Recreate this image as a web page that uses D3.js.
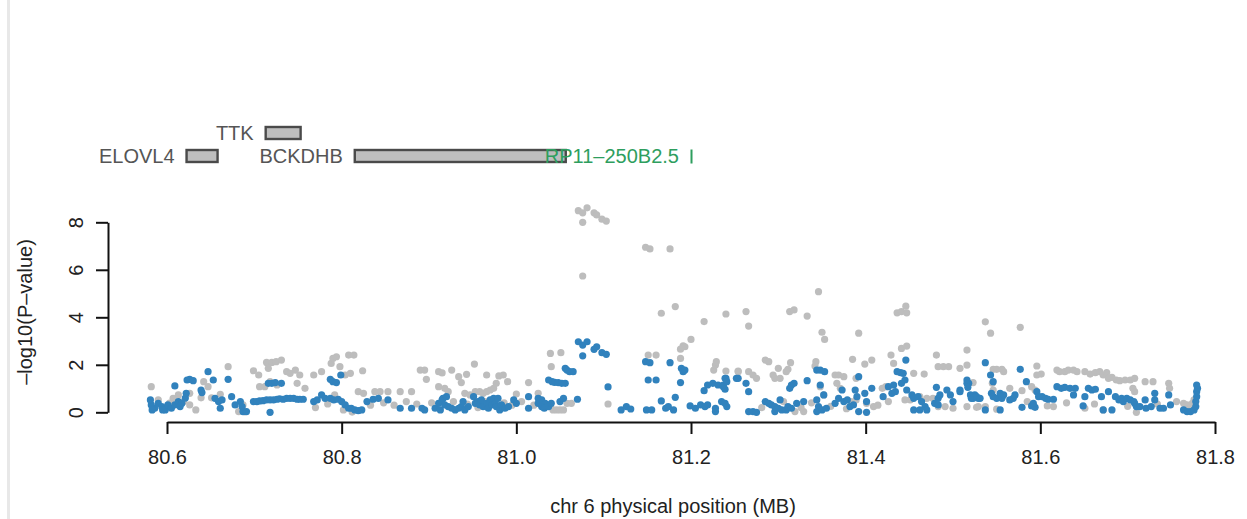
<!DOCTYPE html>
<html>
<head>
<meta charset="utf-8">
<script src="https://cdn.jsdelivr.net/npm/d3@7"></script>
<style>
  body { margin: 0; background: #fff; }
  svg text { font-family: "Liberation Sans", Arial, Helvetica, sans-serif; }
</style>
</head>
<body>
<script>

// axis ticks
const xTicks = [80.6, 80.8, 81.0, 81.2, 81.4, 81.6, 81.8];
const yTicks = [0, 2, 4, 6, 8];

// genes in the region (MB)
const geneNames = ['ELOVL4', 'TTK', 'BCKDHB', 'RP11–250B2.5'];
const geneStart = [80.6224, 80.713, 80.815, 81.200];
const geneEnd   = [80.6579, 80.753, 81.0566, 81.2005];
const geneRow   = [0, 1, 0, 0];
const geneType  = ['coding', 'coding', 'coding', 'lincRNA'];

// [position MB, -log10 p] : grey = all SNPs, blue = conditioned
const greySnps = [
  [80.582,1.08],[80.670,1.92],[80.642,1.29],[80.647,1.08],[80.639,0.61],[80.619,0.45],[80.607,0.59],[80.613,0.73],
  [80.626,0.80],[80.661,0.76],[80.651,0.61],[80.687,0.31],[80.682,0.03],[80.689,0.02],[80.699,1.75],[80.705,1.57],
  [80.706,1.08],[80.714,2.10],[80.720,2.10],[80.725,2.13],[80.731,2.20],[80.716,1.85],[80.712,1.08],[80.718,1.29],
  [80.726,1.15],[80.737,1.71],[80.741,1.64],[80.747,1.78],[80.752,1.57],[80.758,1.01],[80.749,1.22],[80.590,0.52],
  [80.598,0.18],[80.603,0.39],[80.626,0.31],[80.633,0.10],
  [80.768,1.57],[80.777,1.71],[80.788,2.06],[80.790,2.27],[80.794,2.34],[80.798,1.92],[80.808,2.41],[80.814,2.41],
  [80.804,1.57],[80.810,1.64],[80.824,1.75],[80.819,0.87],[80.825,0.80],[80.838,0.87],[80.844,0.87],[80.853,0.87],
  [80.867,0.87],[80.880,0.87],[80.890,1.78],[80.895,1.78],[80.911,1.71],[80.792,0.73],[80.802,0.10],[80.812,0.01],
  [80.897,1.39],[80.915,1.66],[80.926,1.78],[80.911,1.08],[80.918,1.01],[80.922,0.87],[80.934,1.50],[80.937,1.25],
  [80.943,1.60],[80.952,2.03],[80.941,0.80],[80.947,0.73],[80.953,0.87],[80.958,0.87],[80.962,0.80],[80.966,0.87],
  [80.970,0.94],[80.974,1.01],[80.977,1.22],[80.980,1.53],[80.985,1.57],[80.990,1.29],[80.966,1.57],[81.000,0.77],
  [81.014,1.25],[81.025,0.80],[81.040,1.92],[81.039,2.48],[81.051,2.51],[81.039,0.24],[81.042,0.10],[81.046,0.10],
  [81.050,0.10],[81.054,0.10],[81.058,0.38],[81.063,0.38],[81.105,0.35],
  [80.770,0.20],[80.784,0.35],[80.833,0.30],[80.848,0.40],[80.860,0.30],[80.874,0.45],[80.886,0.35],[80.903,0.40],
  [80.928,0.45],[80.944,0.35],[80.956,0.20],[80.964,0.45],[80.986,0.40],[80.995,0.30],[81.006,0.45],[81.020,0.30],
  [81.071,8.49],[81.076,8.40],[81.081,8.61],[81.089,8.40],[81.092,8.31],[81.098,8.13],[81.103,8.05],[81.076,8.00],
  [81.076,5.74],[81.148,6.95],[81.153,6.88],[81.176,6.88],[81.166,4.17],[81.182,4.45],[81.215,3.82],[81.240,4.14],
  [81.200,3.07],[81.191,2.80],[81.193,2.76],[81.188,2.66],[81.188,2.27],[81.151,2.41],[81.160,2.41],[81.226,1.78],
  [81.228,1.99],[81.229,2.13],[81.254,1.71],
  [81.263,4.24],[81.266,3.63],[81.313,4.24],[81.318,4.31],[81.333,4.05],[81.346,5.08],[81.350,3.37],[81.353,3.07],
  [81.392,3.33],[81.436,4.19],[81.441,4.24],[81.446,4.47],[81.447,4.19],[81.441,2.69],[81.447,2.79],[81.429,2.41],
  [81.432,2.06],[81.285,2.20],[81.289,2.13],[81.314,2.09],[81.311,1.81],[81.309,1.71],[81.300,1.85],[81.343,2.13],
  [81.342,1.95],[81.385,2.23],[81.399,2.03],[81.407,2.20],[81.481,2.41],[81.516,2.62],[81.516,1.99],[81.508,1.85],
  [81.483,1.92],[81.489,1.92],[81.495,1.92],[81.240,1.74],[81.254,1.74],[81.266,1.71],[81.271,1.57],[81.275,1.43],
  [81.294,1.57],[81.296,1.43],[81.302,1.43],[81.365,1.57],[81.369,1.57],[81.375,1.50],[81.367,1.22],[81.371,1.01],
  [81.389,1.43],[81.423,1.08],[81.419,1.01],[81.455,1.64],[81.467,1.61],[81.445,0.52],[81.451,0.52],[81.462,0.66],
  [81.470,0.59],[81.477,0.59],[81.483,0.24],[81.491,0.24],[81.500,0.17],[81.516,0.24],[81.529,0.24],[81.319,0.03],
  [81.329,0.03],[81.348,1.08],[81.352,0.73],[81.401,0.38],[81.409,0.24],[81.389,0.52],[81.383,0.45],
  [81.281,0.20],[81.306,0.45],[81.326,0.20],[81.338,0.40],[81.360,0.25],[81.378,0.15],[81.414,0.30],[81.426,0.45],
  [81.537,3.81],[81.543,3.33],[81.577,3.58],[81.546,1.81],[81.550,1.81],[81.556,1.81],[81.558,1.71],[81.545,1.22],
  [81.546,0.94],[81.523,1.25],[81.527,0.21],[81.537,0.24],[81.550,0.13],[81.565,1.01],[81.579,0.91],[81.596,1.95],
  [81.601,1.61],[81.596,1.57],[81.590,1.08],[81.594,0.94],[81.608,0.27],[81.615,0.24],[81.619,1.78],[81.622,1.71],
  [81.628,1.71],[81.632,1.78],[81.638,1.78],[81.642,1.71],[81.651,1.71],[81.657,1.61],[81.663,1.67],[81.668,1.71],
  [81.672,1.57],[81.676,1.67],[81.678,1.43],[81.682,1.47],[81.687,1.36],[81.691,1.33],[81.697,1.36],[81.703,1.36],
  [81.708,1.43],[81.720,1.29],[81.729,1.29],[81.747,1.22],[81.748,1.01],[81.706,1.01],[81.708,0.87],[81.710,0.00],
  [81.764,0.38],[81.768,0.31],[81.772,0.27],[81.774,0.38],[81.776,0.52],[81.672,0.10],[81.651,0.17],
  [81.585,0.45],[81.630,0.40],[81.662,0.35],[81.700,0.25],[81.734,0.35],[81.756,0.45]
];

const blueSnps = [
  [80.582,0.31],[80.586,0.17],[80.590,0.38],[80.594,0.24],[80.598,0.10],[80.601,0.31],[80.605,0.17],[80.609,0.31],
  [80.613,0.45],[80.615,0.24],[80.617,0.38],[80.581,0.52],[80.583,0.10],[80.595,0.10],[80.621,0.60],[80.609,1.11],
  [80.623,1.36],[80.626,1.39],[80.630,1.33],[80.647,1.71],[80.639,0.94],[80.640,0.83],[80.653,1.36],[80.670,1.39],
  [80.622,0.80],[80.655,0.59],[80.659,0.45],[80.663,0.52],[80.661,0.17],[80.674,0.66],[80.678,0.31],[80.684,0.45],
  [80.686,0.24],[80.687,0.03],[80.691,0.03],[80.699,0.45],[80.703,0.45],[80.706,0.48],[80.710,0.49],[80.714,0.52],
  [80.718,0.52],[80.722,0.52],[80.726,0.55],[80.729,0.57],[80.733,0.55],[80.737,0.59],[80.741,0.59],[80.745,0.59],
  [80.749,0.55],[80.752,0.55],[80.756,0.55],[80.716,1.22],[80.720,1.22],[80.724,1.25],[80.731,1.22],[80.718,0.00],
  [80.768,0.45],[80.772,0.52],[80.777,0.73],[80.781,0.59],[80.787,0.59],[80.791,0.52],[80.796,0.55],[80.800,0.45],
  [80.804,0.31],[80.808,0.17],[80.811,0.17],[80.815,0.10],[80.819,0.07],[80.823,0.10],[80.829,0.45],[80.836,0.55],
  [80.842,0.59],[80.853,0.52],[80.867,0.17],[80.880,0.17],[80.892,0.17],[80.895,0.10],[80.907,0.17],[80.787,1.39],
  [80.790,1.29],[80.794,1.25],[80.799,1.57],
  [80.911,0.38],[80.913,0.10],[80.915,0.52],[80.916,0.59],[80.920,0.66],[80.918,0.31],[80.922,0.24],[80.926,0.17],
  [80.930,0.10],[80.934,0.17],[80.937,0.24],[80.939,0.45],[80.941,0.10],[80.945,0.24],[80.951,0.66],[80.953,0.38],
  [80.956,0.45],[80.958,0.31],[80.960,0.52],[80.962,0.24],[80.966,0.38],[80.968,0.17],[80.970,0.52],[80.972,0.31],
  [80.974,0.59],[80.976,0.38],[80.977,0.24],[80.979,0.59],[80.981,0.10],[80.983,0.31],[80.987,0.17],[80.991,0.24],
  [80.997,0.52],[81.000,0.38],[81.014,0.66],[81.014,0.17],[81.025,0.59],[81.025,0.38],[81.029,0.52],[81.033,0.38],
  [81.029,0.24],[81.032,0.17],[81.037,0.24],[81.040,0.38],[81.050,0.45],[81.054,0.59],[81.070,0.55],
  [81.037,1.36],[81.041,1.29],[81.044,1.26],[81.048,1.25],[81.052,1.22],[81.056,1.22],
  [81.056,1.85],[81.058,1.78],[81.061,1.71],[81.065,1.71],
  [81.071,2.97],[81.076,2.83],[81.081,2.97],[81.076,2.38],[81.089,2.65],[81.092,2.76],[81.098,2.51],[81.103,2.44],
  [81.105,1.07],[81.120,0.10],[81.126,0.24],[81.131,0.14],[81.149,0.10],[81.155,0.10],[81.148,2.13],[81.153,2.09],
  [81.151,1.36],[81.160,1.36],[81.176,2.09],[81.166,0.48],[81.171,0.17],[81.174,0.24],[81.180,0.10],[81.182,0.63],
  [81.188,1.25],[81.189,1.85],[81.191,1.71],[81.193,1.78],[81.199,0.27],[81.205,0.17],[81.211,0.31],[81.216,0.24],
  [81.219,0.31],[81.228,0.03],[81.228,0.17],[81.215,0.91],[81.219,1.15],[81.225,1.22],[81.231,1.15],[81.237,1.08],
  [81.239,0.97],[81.240,1.43],[81.252,1.43],[81.235,0.45],[81.241,0.24],
  [81.239,1.43],[81.237,1.15],[81.241,1.29],[81.239,0.38],[81.254,1.43],[81.263,1.22],[81.266,0.87],[81.266,0.03],
  [81.271,0.03],[81.275,0.00],[81.285,0.45],[81.289,0.38],[81.292,0.31],[81.296,0.24],[81.300,0.17],[81.302,0.52],
  [81.296,0.03],[81.304,0.10],[81.309,0.10],[81.311,0.24],[81.315,0.17],[81.313,1.01],[81.315,1.15],[81.318,1.22],
  [81.321,0.38],[81.329,0.45],[81.333,1.33],[81.344,1.78],[81.348,1.78],[81.353,1.71],[81.348,1.15],[81.352,0.73],
  [81.344,0.52],[81.346,0.24],[81.344,0.03],[81.350,0.10],[81.355,0.17],[81.365,0.38],[81.369,0.59],[81.373,0.94],
  [81.375,0.45],[81.379,0.52],[81.382,0.24],[81.386,0.31],[81.388,0.94],[81.390,0.66],[81.392,1.50],[81.392,0.03],
  [81.399,0.80],[81.401,0.45],[81.407,1.01],[81.401,0.00],[81.420,0.66],[81.426,1.08],[81.430,0.80],[81.434,0.87],
  [81.432,1.15],[81.436,1.71],[81.440,1.67],[81.443,1.64],[81.446,2.20],[81.445,1.36],[81.441,1.22],[81.447,0.94],
  [81.453,0.73],[81.455,0.59],[81.460,0.66],[81.464,0.45],[81.468,0.24],[81.455,0.10],[81.462,0.10],[81.470,0.10],
  [81.481,1.05],[81.483,0.59],[81.485,0.73],[81.493,0.94],[81.497,0.73],[81.500,0.45],[81.508,0.87],[81.516,1.36],
  [81.518,1.22],[81.521,0.59],[81.525,0.73],[81.529,0.59],[81.479,0.38],[81.483,0.31],
  [81.516,1.22],[81.517,1.05],[81.508,0.94],[81.520,0.73],[81.523,0.59],[81.527,0.66],[81.531,0.59],[81.537,2.09],
  [81.543,1.57],[81.546,1.29],[81.544,0.80],[81.546,0.66],[81.550,0.59],[81.554,0.80],[81.556,0.59],[81.558,0.73],
  [81.537,0.10],[81.554,0.10],[81.565,0.52],[81.569,0.59],[81.571,0.73],[81.577,1.81],[81.579,0.21],[81.584,1.29],
  [81.590,0.27],[81.594,0.21],[81.592,0.38],[81.596,0.87],[81.598,0.66],[81.602,0.66],[81.606,0.59],[81.609,0.55],
  [81.615,0.55],[81.619,1.08],[81.624,1.01],[81.628,1.05],[81.634,1.01],[81.640,1.01],[81.638,0.73],[81.649,0.27],
  [81.651,0.66],[81.655,1.01],[81.659,0.94],[81.663,0.97],[81.670,0.66],[81.672,0.10],[81.678,0.87],[81.682,0.10],
  [81.686,0.66],[81.690,0.52],[81.693,0.59],[81.695,0.45],[81.699,0.59],[81.703,0.52],[81.707,0.45],[81.708,0.38],
  [81.710,0.24],[81.714,0.24],[81.720,0.52],[81.721,0.17],[81.727,0.24],[81.731,0.52],[81.731,0.80],[81.737,0.17],
  [81.741,0.17],[81.747,0.73],[81.749,0.31],[81.764,0.10],[81.768,0.03],[81.772,0.03],[81.776,0.10],[81.778,0.24],
  [81.778,0.45],[81.779,0.66],[81.779,0.87],[81.780,1.01],[81.779,1.15]
];

const WIDTH = 1247, HEIGHT = 519;

const svg = d3.select('body').append('svg')
  .attr('width', WIDTH)
  .attr('height', HEIGHT);

svg.append('rect')
  .attr('width', WIDTH).attr('height', HEIGHT)
  .attr('fill', '#fff');

// thin grey frame edge on the left
svg.append('rect')
  .attr('x', 7).attr('y', 0)
  .attr('width', 3).attr('height', HEIGHT)
  .attr('fill', '#e8e8e8');

const x = d3.scaleLinear().domain([80.6, 81.8]).range([167, 1215]);
const y = d3.scaleLinear().domain([0, 8]).range([412.3, 222.3]);

const rowY = [156, 133];
const typeColor = { coding: '#bebebe', lincRNA: '#2e9e5e' };
const typeStroke = { coding: '#4a4a4a', lincRNA: '#2e9e5e' };
const typeText = { coding: '#555', lincRNA: '#2e9e5e' };

const genes = geneNames.map((name, i) => ({
  name, start: geneStart[i], end: geneEnd[i], row: geneRow[i], type: geneType[i]
}));

// gene boxes
svg.append('g').selectAll('rect')
  .data(genes)
  .enter().append('rect')
    .attr('x', (d) => x(d.start))
    .attr('y', (d) => rowY[d.row] - 6)
    .attr('width', (d) => Math.max(1, x(d.end) - x(d.start)))
    .attr('height', (d) => d.type === 'coding' ? 12 : 13)
    .attr('fill', (d) => typeColor[d.type])
    .attr('stroke', (d) => typeStroke[d.type])
    .attr('stroke-width', (d) => d.type === 'coding' ? 2.4 : 1);

// gene labels
svg.append('g').selectAll('text')
  .data(genes)
  .enter().append('text')
    .attr('x', (d) => x(d.start) - 12)
    .attr('y', (d) => rowY[d.row])
    .attr('dy', '0.35em')
    .attr('text-anchor', 'end')
    .style('font-size', '20px')
    .style('fill', (d) => typeText[d.type])
    .text((d) => d.name);

// points
svg.append('g').selectAll('circle')
  .data(greySnps)
  .enter().append('circle')
    .attr('cx', (d) => x(d[0]))
    .attr('cy', (d) => y(d[1]))
    .attr('r', 3.6)
    .attr('fill', '#bdbdbd');

svg.append('g').selectAll('circle')
  .data(blueSnps)
  .enter().append('circle')
    .attr('cx', (d) => x(d[0]))
    .attr('cy', (d) => y(d[1]))
    .attr('r', 3.6)
    .attr('fill', '#3182bd');

// x axis
const gx = svg.append('g')
  .attr('transform', 'translate(0, 422)')
  .call(d3.axisBottom(x)
    .tickValues(xTicks)
    .tickSize(12)
    .tickSizeOuter(0)
    .tickPadding(16)
    .tickFormat(d3.format('.1f')));

// y axis
const gy = svg.append('g')
  .attr('transform', 'translate(108, 0)')
  .call(d3.axisLeft(y)
    .tickValues(yTicks)
    .tickSize(12)
    .tickSizeOuter(0)
    .tickFormat(d3.format('d')));

gy.selectAll('.tick text')
  .attr('transform', 'rotate(-90)')
  .attr('x', 0)
  .attr('y', -32)
  .attr('dy', '0.35em')
  .attr('text-anchor', 'middle');

[gx, gy].forEach((g) => {
  g.selectAll('.domain, .tick line').attr('stroke', '#111').attr('stroke-width', 2);
  g.selectAll('.tick text').style('font-size', '20px').style('fill', '#222');
});

// titles
svg.append('text')
  .attr('x', 673)
  .attr('y', 513)
  .attr('text-anchor', 'middle')
  .style('font-size', '20px')
  .style('fill', '#222')
  .text('chr 6 physical position (MB)');

svg.append('text')
  .attr('transform', 'translate(25, 312) rotate(-90)')
  .attr('dy', '0.35em')
  .attr('text-anchor', 'middle')
  .style('font-size', '20px')
  .style('fill', '#222')
  .text('–log10(P–value)');

</script>
</body>
</html>
